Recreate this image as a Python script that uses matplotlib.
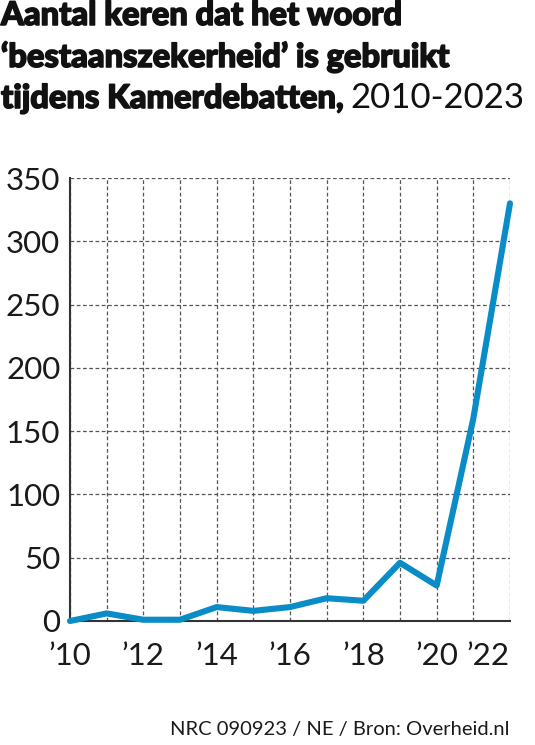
import matplotlib
matplotlib.use("Agg")
import matplotlib.pyplot as plt
from matplotlib import font_manager as fm
import matplotlib.patheffects as pe
import os

years = [2010, 2011, 2012, 2013, 2014, 2015, 2016, 2017, 2018, 2019, 2020, 2021, 2022]
counts = [0, 6, 1, 1, 11, 8, 11, 18, 16, 46, 28, 160, 330]
tick_years = [2010, 2012, 2014, 2016, 2018, 2020, 2022]
tick_labels = ["\u201910", "\u201912", "\u201914", "\u201916", "\u201918", "\u201920", "\u201922"]
y_ticks = [0, 50, 100, 150, 200, 250, 300, 350]

title_lines = ["Aantal keren dat het woord",
               "\u2018bestaanszekerheid\u2019 is gebruikt",
               "tijdens Kamerdebatten,"]
title_suffix = "2010-2023"
footer = "NRC 090923 / NE / Bron: Overheid.nl"

LINE_COLOR = "#0a8cc6"
TEXT = "#1a1a1a"


def font_by_file(basename, fallback_weight):
    for f in fm.fontManager.ttflist:
        if os.path.basename(f.fname) == basename:
            return fm.FontProperties(fname=f.fname)
    return fm.FontProperties(family="Lato", weight=fallback_weight)


fp_black = font_by_file("Lato-Black.ttf", "black")
fp_reg = font_by_file("Lato-Regular.ttf", "normal")

fig = plt.figure(figsize=(5.35, 7.45), dpi=100)
ax = fig.add_axes([70/535, 1 - 621/745, 440/535, (621-178)/745])

ax.plot(years, counts, color=LINE_COLOR, lw=4.4, solid_capstyle="round",
        solid_joinstyle="round", clip_on=False, zorder=5)
ax.set_xlim(2010, 2022)
ax.set_ylim(0, 350)
ax.set_xticks(years)
ax.set_xticklabels([""] * len(years))
ax.set_yticks(y_ticks)
ax.set_yticklabels([str(v) for v in y_ticks])
for lab in ax.get_yticklabels():
    lab.set_fontproperties(fp_reg)
    lab.set_fontsize(22.5)
    lab.set_color(TEXT)
ax.tick_params(axis="both", length=0, pad=7)
ax.grid(True, color="#555555", lw=0.9, ls=(0, (3, 2)))
for s in ["top", "right"]:
    ax.spines[s].set_visible(False)
for s in ["left", "bottom"]:
    ax.spines[s].set_color("#333333")
    ax.spines[s].set_linewidth(1.5)
ax.set_axisbelow(True)

n = len(tick_years)
for i, (yr, lab) in enumerate(zip(tick_years, tick_labels)):
    ha = "right" if i == n - 1 else "center"
    ax.text(yr, -28, lab, ha=ha, va="center", fontproperties=fp_reg,
            fontsize=22.5, color=TEXT, clip_on=False)

# Title
ys = [745 - 25, 745 - 67, 745 - 108]
stroke = [pe.withStroke(linewidth=1.1, foreground="#111111")]
for line, yp in zip(title_lines, ys):
    t = fig.text(1/535, yp/745, line, fontproperties=fp_black,
                 fontsize=23.5, color="#111111", va="baseline", ha="left",
                 path_effects=stroke)
fig.canvas.draw()
bb = t.get_window_extent(renderer=fig.canvas.get_renderer())
fig.text((bb.x1 + 7)/535, ys[-1]/745, title_suffix, fontproperties=fp_reg,
         fontsize=25, color="#111111", va="baseline", ha="left")

fig.text(510/535, (745-730)/745, footer, fontproperties=fp_reg,
         fontsize=14.5, color=TEXT, ha="right", va="center")

fig.savefig("out.png", dpi=100)
